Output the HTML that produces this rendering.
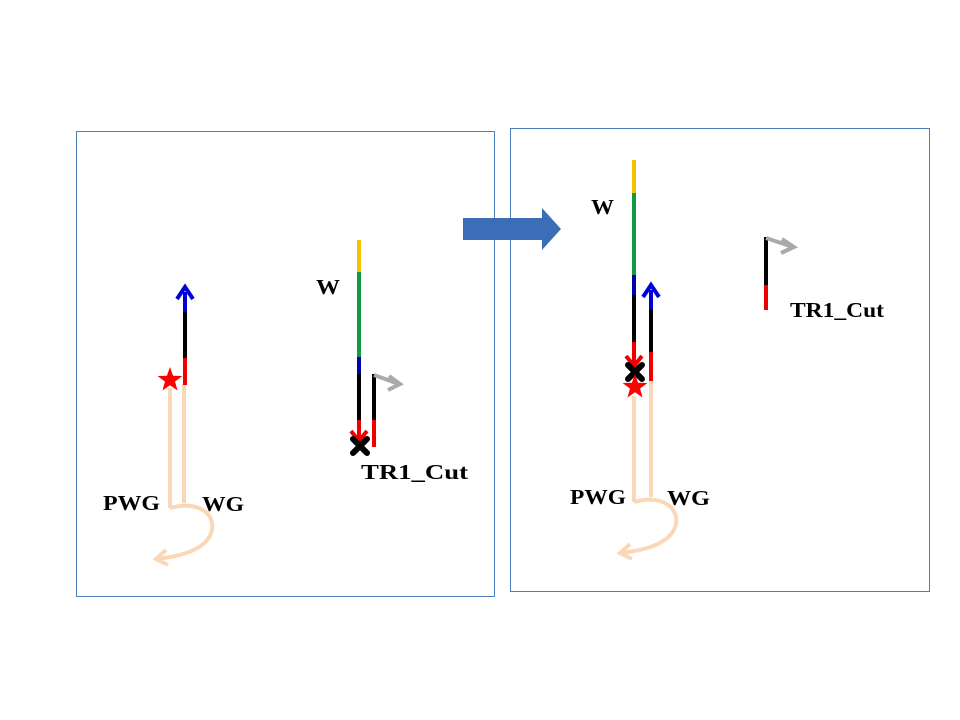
<!DOCTYPE html>
<html><head><style>
body{margin:0;background:#fff;}
svg{display:block;}
text{font-family:"Liberation Serif",serif;font-weight:bold;font-size:21px;fill:#000;}
</style></head><body>
<svg width="960" height="720" viewBox="0 0 960 720" xmlns="http://www.w3.org/2000/svg">
<defs>
<g id="star"><polygon points="0,-13 3.1,-4.2 12.4,-4 5,1.6 7.6,10.5 0,5.2 -7.6,10.5 -5,1.6 -12.4,-4 -3.1,-4.2" fill="#ff0000"/></g>
<g id="xm"><path d="M-7,-7 L7,7 M7,-7 L-7,7" stroke="#000" stroke-width="6" stroke-linecap="round"/></g>
</defs>
<rect x="76.5" y="131.5" width="418" height="465" fill="none" stroke="#4a7ebb" stroke-width="1"/>
<rect x="510.5" y="128.5" width="419" height="463" fill="none" stroke="#4a7ebb" stroke-width="1"/>
<polygon points="463,218 542,218 542,208 561,229 542,250 542,240 463,240" fill="#3a6fb8"/>

<!-- LEFT -->
<g stroke-width="4" fill="none">
<line x1="170" y1="388" x2="170" y2="508" stroke="#fad7b7"/>
<line x1="184" y1="384" x2="184" y2="503" stroke="#fad7b7"/>
<path d="M170,508 C200,500 215,515 212,530 C208,548 185,556 156,559" stroke="#fad7b7"/>
<path d="M166,550 L156,559 L168,565" stroke="#fad7b7"/>
<line x1="185" y1="292" x2="185" y2="312" stroke="#0000dd"/>
<line x1="185" y1="312" x2="185" y2="358" stroke="#000"/>
<line x1="185" y1="358" x2="185" y2="385" stroke="#ee0000"/>
<path d="M177,299 L185,287 L193,299" stroke="#0000dd"/>
</g>
<use href="#star" x="170" y="380"/>
<text x="103" y="510" textLength="57" lengthAdjust="spacingAndGlyphs">PWG</text>
<text x="202" y="511" textLength="42" lengthAdjust="spacingAndGlyphs">WG</text>

<g stroke-width="4" fill="none">
<line x1="359" y1="240" x2="359" y2="272" stroke="#f5c100"/>
<line x1="359" y1="272" x2="359" y2="357" stroke="#119944"/>
<line x1="359" y1="357" x2="359" y2="374" stroke="#0000aa"/>
<line x1="359" y1="374" x2="359" y2="420" stroke="#000"/>
<line x1="359" y1="420" x2="359" y2="440" stroke="#ee0000"/>
<path d="M351,431 L359,441 L367,431" stroke="#ee0000"/>
<line x1="374" y1="374" x2="374" y2="420" stroke="#000"/>
<line x1="374" y1="420" x2="374" y2="447" stroke="#ee0000"/>
<path d="M374,375 L399,384" stroke="#aaaaaa"/>
<path d="M389,376 L400,384 L388,390" stroke="#aaaaaa"/>
</g>
<use href="#xm" x="360" y="446"/>
<text x="316" y="294" textLength="24" lengthAdjust="spacingAndGlyphs">W</text>
<text x="361" y="479" textLength="107" lengthAdjust="spacingAndGlyphs">TR1_Cut</text>

<!-- RIGHT -->
<g stroke-width="4" fill="none">
<line x1="634" y1="396" x2="634" y2="502" stroke="#fad7b7"/>
<line x1="651" y1="380" x2="651" y2="497" stroke="#fad7b7"/>
<path d="M634,502 C664,494 679,509 676,524 C672,542 649,550 620,553" stroke="#fad7b7"/>
<path d="M630,544 L620,553 L632,559" stroke="#fad7b7"/>
<line x1="634" y1="160" x2="634" y2="193" stroke="#f5c100"/>
<line x1="634" y1="193" x2="634" y2="275" stroke="#119944"/>
<line x1="634" y1="275" x2="634" y2="295" stroke="#0000aa"/>
<line x1="634" y1="295" x2="634" y2="342" stroke="#000"/>
<line x1="634" y1="342" x2="634" y2="366" stroke="#ee0000"/>
<path d="M626,356 L634,366 L642,356" stroke="#ee0000"/>
<line x1="651" y1="290" x2="651" y2="310" stroke="#0000dd"/>
<line x1="651" y1="310" x2="651" y2="352" stroke="#000"/>
<line x1="651" y1="352" x2="651" y2="381" stroke="#ee0000"/>
<path d="M643,297 L651,285 L659,297" stroke="#0000dd"/>
<line x1="766" y1="237" x2="766" y2="285" stroke="#000"/>
<line x1="766" y1="285" x2="766" y2="310" stroke="#ee0000"/>
<path d="M766,238 L793,247" stroke="#aaaaaa"/>
<path d="M782,239 L794,247 L781,253" stroke="#aaaaaa"/>
</g>
<use href="#xm" x="635" y="372"/>
<use href="#star" x="635" y="387"/>
<text x="570" y="504" textLength="56" lengthAdjust="spacingAndGlyphs">PWG</text>
<text x="667" y="505" textLength="43" lengthAdjust="spacingAndGlyphs">WG</text>
<text x="591" y="214" textLength="23" lengthAdjust="spacingAndGlyphs">W</text>
<text x="790" y="317" textLength="94" lengthAdjust="spacingAndGlyphs">TR1_Cut</text>
</svg>
</body></html>
